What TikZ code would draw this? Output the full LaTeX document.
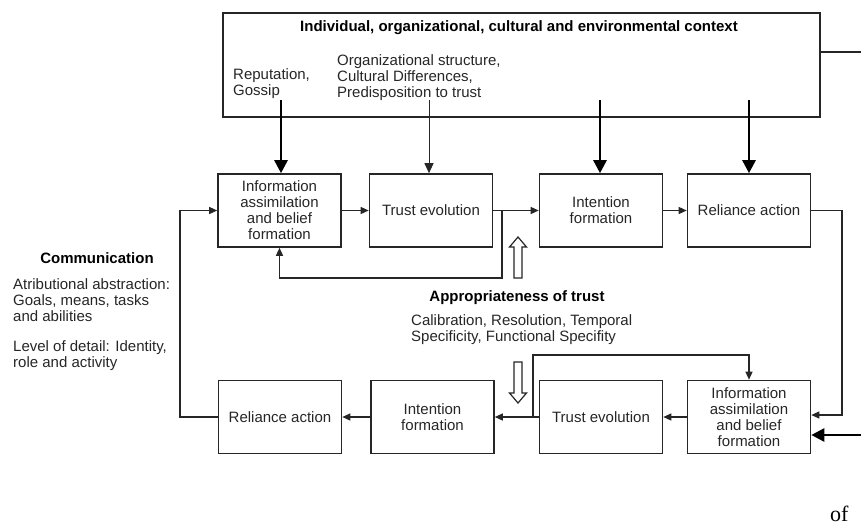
\documentclass[tikz,border=0pt]{standalone}
\usepackage{fontspec}
\setmainfont{Liberation Sans}
\newfontfamily\pageserif{Liberation Serif}
\usetikzlibrary{arrows.meta}
\begin{document}
\begin{tikzpicture}[x=1pt,y=-1pt,
  every node/.style={font=\fontsize{15}{16}\selectfont, text=black!85},
  stage/.style={draw=black!85, line width=1.6pt, minimum width=123pt, minimum height=73pt, align=center, inner sep=2pt},
  lbl/.style={align=left, inner sep=0pt},
  hd/.style={font=\fontsize{15}{16}\selectfont\bfseries, inner sep=0pt, text=black},
  flow/.style={draw=black!85, line width=1.3pt, -{Triangle[length=8pt,width=7pt]}},
  link/.style={draw=black!85, line width=2.6pt},
  heavy/.style={draw=black, line width=2.6pt, -{Triangle[length=13pt,width=13pt]}},
  feed/.style={draw=black!85, line width=1pt, -{Triangle[length=10pt,width=9pt]}},
  hollow/.style={draw=black!85, line width=1.2pt, fill=white},
]
\useasboundingbox (0,0) rectangle (861,527);

% context frame
\node[draw=black!85, line width=1.6pt, minimum width=597pt, minimum height=104pt, inner sep=0pt] (ctx) at (521.5,65) {};
\node[hd] (ctxtitle) at (519,28) {Individual, organizational, cultural and environmental context};
\node[lbl, anchor=west] (rep) at (233,84) {Reputation,\\Gossip};
\node[lbl, anchor=west] (org) at (337,78) {Organizational structure,\\Cultural Differences,\\Predisposition to trust};

% upper cycle
\node[stage] (m1) at (279.5,210.5) {Information\\assimilation\\and belief\\formation};
\node[stage] (m2) at (431,210.5) {Trust evolution};
\node[stage] (m3) at (601,210.5) {Intention\\formation};
\node[stage] (m4) at (749,210.5) {Reliance action};

% lower cycle
\node[stage] (b1) at (280,417) {Reliance action};
\node[stage] (b2) at (432.5,417) {Intention\\formation};
\node[stage] (b3) at (601,417) {Trust evolution};
\node[stage] (b4) at (749,417) {Information\\assimilation\\and belief\\formation};

% side and middle notes
\node[hd] (comm) at (97,258) {Communication};
\node[lbl, anchor=west] (attr) at (13,300) {Atributional abstraction:\\Goals, means, tasks\\and abilities};
\node[lbl, anchor=west] (lod) at (13,356) {Level of detail: Identity,\\role and activity};
\node[hd] (appr) at (517,298) {Appropriateness of trust};
\node[lbl, anchor=west] (calib) at (411,330) {Calibration, Resolution, Temporal\\Specificity, Functional Specifity};

% context influences
\coordinate (s1) at (281,100);
\coordinate (s2) at (429,100);
\coordinate (s3) at (600,100);
\coordinate (s4) at (749,100);
\draw[heavy] (s1) -- (s1 |- m1.north);
\draw[feed] (s2) -- (s2 |- m2.north);
\draw[heavy] (s3) -- (s3 |- m3.north);
\draw[heavy] (s4) -- (s4 |- m4.north);
\coordinate (e1) at (861,52);
\draw[link] (ctx.east |- e1) -- (e1);
\coordinate (e2) at (861,435);
\draw[heavy] (e2) -- (e2 -| b4.east);

% upper flow
\draw[flow] (m1.east) -- (m2.west);
\draw[flow] (m2.east) -- (m3.west);
\draw[flow] (m3.east) -- (m4.west);
\coordinate (j1) at (502,278);
\draw[flow] (j1 |- m2.east) -- (j1) -| (m1.south);

% hand-over to the lower cycle
\coordinate (r2) at (842,415);
\draw[flow] (m4.east) -- (m4.east -| r2) -- (r2) -- (r2 -| b4.east);

% lower flow
\draw[flow] (b4.west) -- (b3.east);
\draw[flow] (b3.west) -- (b2.east);
\draw[flow] (b2.west) -- (b1.east);
\coordinate (j2) at (533,355);
\draw[flow] (j2 |- b3.west) -- (j2) -| (b4.north);

% communication loop back to the upper cycle
\coordinate (l1) at (180,417);
\draw[flow] (b1.west) -- (l1) |- (m1.west);

% hollow block arrows
\draw[hollow] (514,278) -- (522,278) -- (522,247) -- (526.5,247) -- (518,237) -- (509.5,247) -- (514,247) -- cycle;
\draw[hollow] (514,362) -- (522,362) -- (522,393) -- (526.5,393) -- (518,403) -- (509.5,393) -- (514,393) -- cycle;

% running text at the page edge
\node[inner sep=0pt, anchor=base west, font=\pageserif\fontsize{22}{22}\selectfont, text=black] (pageword) at (830,521) {of};
\end{tikzpicture}
\end{document}
